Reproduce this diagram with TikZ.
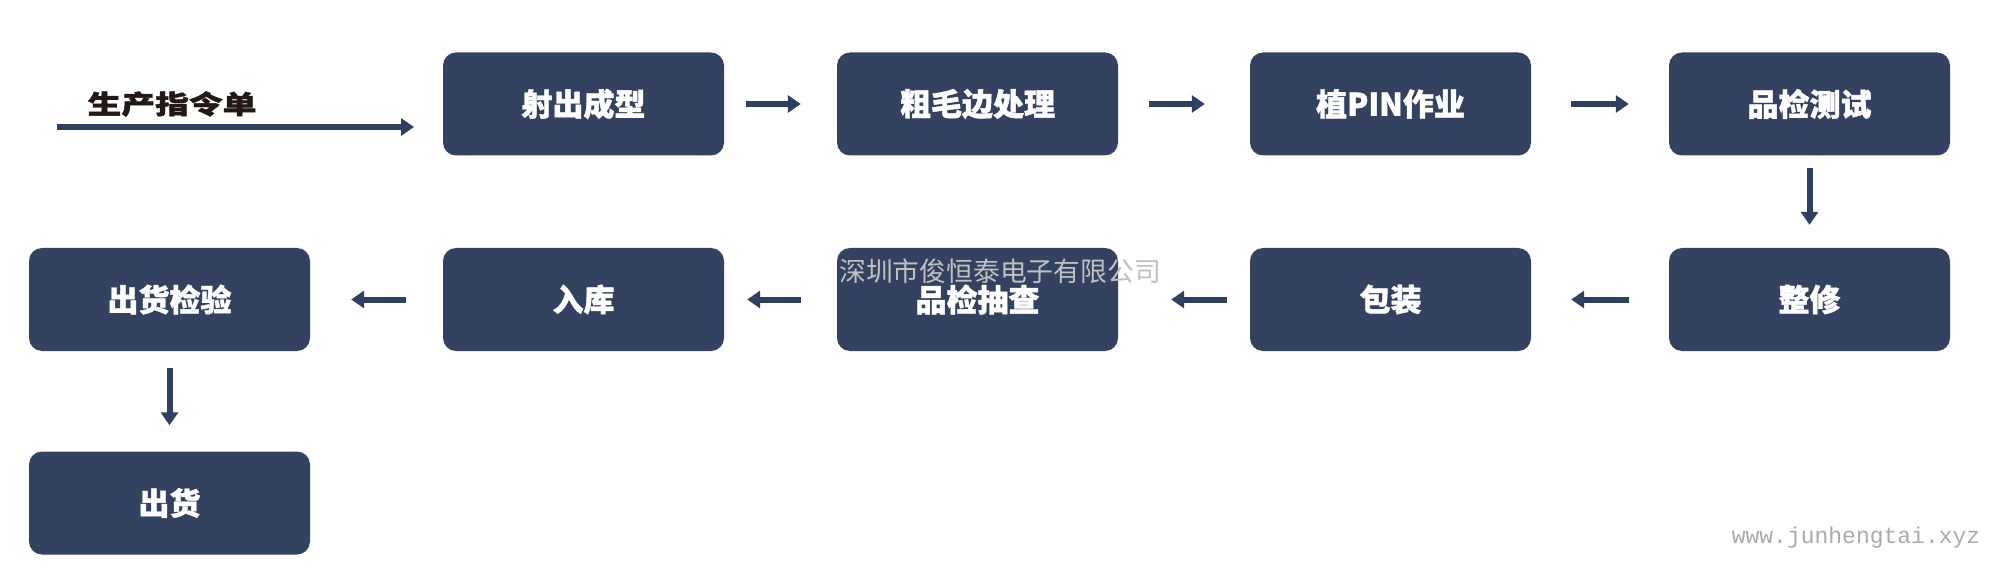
\documentclass[tikz,border=0pt]{standalone}
\usepackage{fontspec}
\usetikzlibrary{arrows.meta}
\newfontfamily\cjkheavy{Noto Sans CJK SC Black}[FakeBold=1.3]
\newfontfamily\cjkreg{Noto Sans CJK SC}
\setmonofont{Liberation Mono}
\definecolor{boxnavy}{RGB}{51,66,96}
\definecolor{arrnavy}{RGB}{46,63,97}
\definecolor{wmgray}{RGB}{192,192,192}
\definecolor{urlgray}{RGB}{170,170,170}
\definecolor{titleink}{RGB}{35,24,21}
\tikzset{
  stepbox/.style={fill=boxnavy, rounded corners=13pt, minimum width=281pt, minimum height=103pt,
    inner sep=0pt, text=white, font=\cjkheavy\fontsize{31}{36}\selectfont},
  flow/.style={draw=arrnavy, line width=6pt, -{Triangle[length=13pt,width=17pt]}},
}
\begin{document}
\begin{tikzpicture}[x=1pt,y=-1pt]
\useasboundingbox (0,0) rectangle (2000,588);
% row 1
\node[stepbox] (b1) at (583.5,104) {射出成型};
\node[stepbox] (c1) at (977.5,104) {粗毛边处理};
\node[stepbox] (d1) at (1390.5,104) {植PIN作业};
\node[stepbox] (e1) at (1809.5,104) {品检测试};
% row 2
\node[stepbox] (a2) at (169.5,299.5) {出货检验};
\node[stepbox] (b2) at (583.5,299.5) {入库};
\node[stepbox] (c2) at (977.5,299.5) {品检抽查};
\node[stepbox] (d2) at (1390.5,299.5) {包装};
\node[stepbox] (e2) at (1809.5,299.5) {整修};
% row 3
\node[stepbox] (a3) at (169.5,503) {出货};
% start
\coordinate (s0) at (57,127);
\coordinate (s1) at (414,127);
\node[text=titleink, font=\cjkheavy\fontsize{26}{30}\selectfont, anchor=west] (title) at (84,104) {\scalebox{1.3}[1]{生产指令单}};
\draw[flow] (s0) -- (s1);
% row 1 arrows
\draw[flow] ([xshift=22pt]b1.east) -- ([xshift=-36pt]c1.west);
\draw[flow] ([xshift=31pt]c1.east) -- ([xshift=-45pt]d1.west);
\draw[flow] ([xshift=40pt]d1.east) -- ([xshift=-40pt]e1.west);
\draw[flow] ([yshift=-12pt]e1.south) -- ([yshift=23pt]e2.north);
% row 2 arrows
\draw[flow] ([xshift=-40pt]e2.west) -- ([xshift=40pt]d2.east);
\draw[flow] ([xshift=-23pt]d2.west) -- ([xshift=53pt]c2.east);
\draw[flow] ([xshift=-36pt]c2.west) -- ([xshift=23pt]b2.east);
\draw[flow] ([xshift=-37pt]b2.west) -- ([xshift=41pt]a2.east);
\draw[flow] ([yshift=-17pt]a2.south) -- ([yshift=26pt]a3.north);
% watermarks
\node[text=wmgray, font=\cjkreg\fontsize{26.8}{30}\selectfont, inner sep=0pt] (wm) at (1000,271) {深圳市俊恒泰电子有限公司};
\node[text=urlgray, font=\ttfamily\fontsize{23}{26}\selectfont, inner sep=0pt] (url) at (1856,538) {www.junhengtai.xyz};
\end{tikzpicture}
\end{document}
